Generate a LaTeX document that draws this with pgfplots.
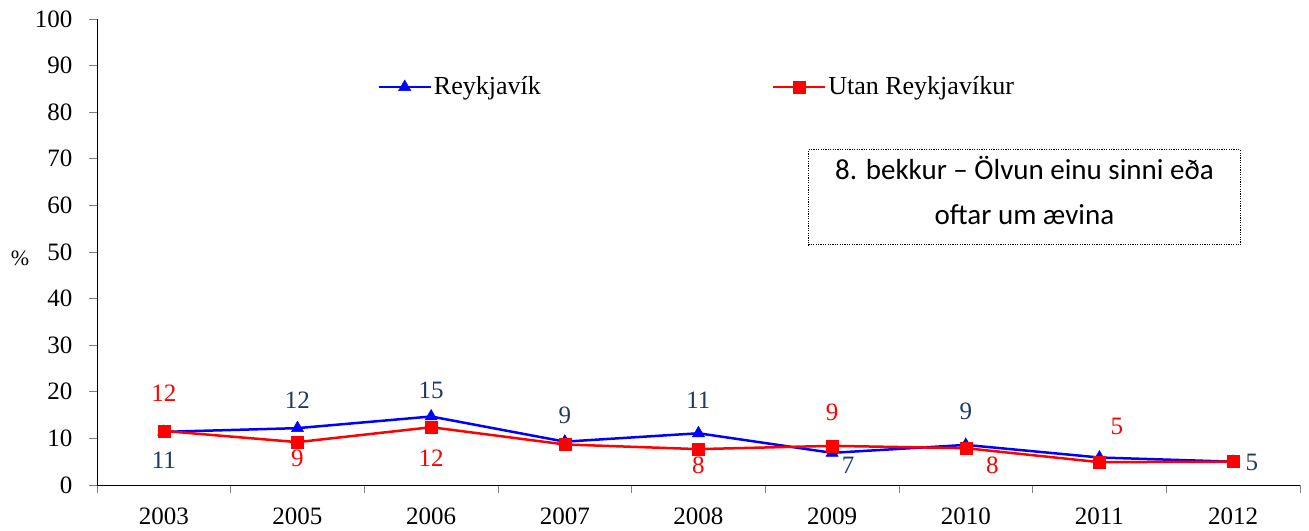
\documentclass[border=0pt]{standalone}
\usepackage{pgfplots}
\pgfplotsset{compat=1.18}
\usepackage{fontspec}
\setmainfont{Liberation Serif}
\newfontfamily\calibri{Carlito}
\definecolor{navy}{RGB}{31,56,100}
\definecolor{myblue}{RGB}{0,0,255}
\definecolor{myred}{RGB}{255,0,0}
\begin{document}
\fontsize{25bp}{30bp}\selectfont
\begin{tikzpicture}
\path[use as bounding box] (0,0) rectangle (1309bp,531bp);
\begin{axis}[
  at={(97bp,46bp)}, anchor=south west,
  width=1203bp, height=466bp, scale only axis,
  xmin=-0.5, xmax=8.5, ymin=0, ymax=100,
  axis x line=bottom, axis y line=left, axis line style={-, black, line width=1bp},
  xtick={0,...,8},
  xticklabels={2003,2005,2006,2007,2008,2009,2010,2011,2012},
  major x tick style={draw=none},
  minor xtick={-0.5,0.5,...,8.5},
  ytick={0,10,...,100},
  tick align=outside,
  major tick length=8bp, minor tick length=8bp,
  tick style={gray, line width=0.8bp},
  /pgf/number format/assume math mode=true,
  ticklabel style={font=\fontsize{25bp}{30bp}\selectfont},
  yticklabel style={xshift=-8bp},
  xticklabel style={yshift=-6bp},
  clip=false,
  legend columns=2,
  legend style={at={(0.233,0.854)}, anchor=west, draw=none, fill=none, inner sep=0pt,
    font=\fontsize{26bp}{30bp}\selectfont,
    /tikz/every even column/.append style={column sep=229bp}},
  legend image code/.code={\draw[#1, mark repeat=2, mark phase=2] plot coordinates {(0bp,0bp)(26bp,0bp)(52bp,0bp)};},
]
\addplot[myblue, line width=2.5bp, mark=triangle*, mark size=7bp, mark options={solid, line width=0.5bp}]
  coordinates {(0,11.4)(1,12.2)(2,14.7)(3,9.3)(4,11.1)(5,6.9)(6,8.6)(7,5.9)(8,5.0)};
\addlegendentry{Reykjavík}
\addplot[myred, line width=2.5bp, mark=square*, mark size=6bp, mark options={solid, line width=0.5bp}]
  coordinates {(0,11.6)(1,9.2)(2,12.4)(3,8.7)(4,7.7)(5,8.4)(6,7.9)(7,4.9)(8,5.0)};
\addlegendentry{Utan Reykjavíkur}
% data labels
\node[navy] at (axis cs:0,5.4) {11};
\node[navy] at (axis cs:1,18.2) {12};
\node[navy] at (axis cs:2,20.4) {15};
\node[navy] at (axis cs:3,15.0) {9};
\node[navy] at (axis cs:4,18.2) {11};
\node[navy] at (axis cs:5.12,4.3) {7};
\node[navy] at (axis cs:6,15.9) {9};
\node[navy] at (axis cs:8.14,4.9) {5};
\node[myred] at (axis cs:0,19.7) {12};
\node[myred] at (axis cs:1,5.8) {9};
\node[myred] at (axis cs:2,5.8) {12};
\node[myred] at (axis cs:4,4.3) {8};
\node[myred] at (axis cs:5,15.5) {9};
\node[myred] at (axis cs:6.2,4.3) {8};
\node[myred] at (axis cs:7.13,12.5) {5};
\node[font=\fontsize{22bp}{26bp}\selectfont] at (rel axis cs:-0.064,0.487) {\%};
\node[draw, dash pattern=on 1.2bp off 1.2bp, line width=1bp, minimum width=432bp, minimum height=95bp]
  at (rel axis cs:0.771,0.617) {};
\node[align=center, yshift=7bp, font=\calibri\fontsize{29bp}{45bp}\selectfont]
  at (rel axis cs:0.771,0.617) {8. bekkur – Ölvun einu sinni eða\\oftar um ævina};
\end{axis}
\end{tikzpicture}
\end{document}
